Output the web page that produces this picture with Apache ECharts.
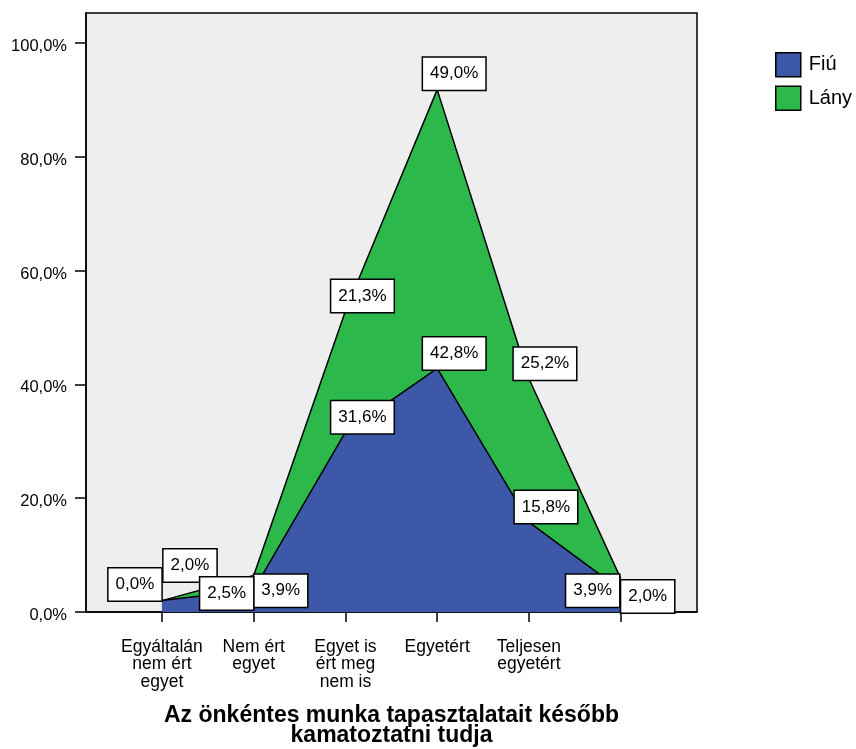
<!DOCTYPE html>
<html><head><meta charset="utf-8">
<script src="https://cdn.jsdelivr.net/npm/echarts@6/dist/echarts.min.js"></script>
<style>html,body{margin:0;padding:0;background:#fff}#c{width:856px;height:749px}</style>
</head><body><div id="c"></div>
<script>
const categories = ['Egyáltalán\nnem ért\negyet', 'Nem ért\negyet', 'Egyet is\nért meg\nnem is', 'Egyetért', 'Teljesen\negyetért', ''];
const fiu = [2.0, 3.9, 31.6, 42.8, 15.8, 3.9];
const lany = [0.0, 2.5, 21.3, 49.0, 25.2, 2.0];
const yTicks = [0, 20, 40, 60, 80, 100];
const seriesNames = ['Fiú', 'Lány'];
const xTitle = 'Az önkéntes munka tapasztalatait később\nkamatoztatni tudja';

// label box placement (pixel offsets from the point) - layout only
const fiuLabelOffset = [[28, -35], [27, 1], [17, -15], [17, -15], [17, -15], [-28, 1]];
const lanyLabelOffset = [[-27, -16], [-27, 18], [17, -15], [17, -16], [16, -15], [27, 18]];

const BLUE = '#3D57A9';
const GREEN = '#2DB84B';
const FONT = '"Liberation Sans", Arial, sans-serif';
const fmt = v => v.toFixed(1).replace('.', ',') + '%';

const xPos = categories.map((c, i) => i + 1);
const total = fiu.map((v, i) => v + lany[i]);

const labelStyle = {
  show: true, position: 'inside', color: '#000', fontFamily: FONT, fontSize: 17,
  lineHeight: 19, backgroundColor: '#fff', borderColor: '#000', borderWidth: 1.5,
  padding: [7, 7, 6, 7], opacity: 1
};

function labelSeries(name, tops, values, offsets) {
  return {
    type: 'scatter', name: name, z: 10, silent: true,
    symbol: 'circle', symbolSize: 1, itemStyle: { color: 'rgba(0,0,0,0)', opacity: 1 },
    data: tops.map((v, i) => ({ value: [xPos[i], v], label: { offset: offsets[i] } })),
    label: Object.assign({}, labelStyle, { formatter: p => fmt(values[p.dataIndex]) })
  };
}

const chart = echarts.init(document.getElementById('c'), null, { renderer: 'canvas' });
chart.setOption({
  animation: false,
  backgroundColor: '#fff',
  textStyle: { fontFamily: FONT },
  grid: {
    left: 86, right: 159, top: 13, bottom: 137, show: true, containLabel: false,
    outerBoundsMode: 'none',
    backgroundColor: '#eeeeee', borderColor: '#000', borderWidth: 1.5
  },
  legend: {
    orient: 'vertical', left: 775, top: 52, itemWidth: 25, itemHeight: 24, itemGap: 8,
    icon: 'rect', padding: 0,
    textStyle: { fontSize: 20, color: '#000', fontFamily: FONT, padding: [0, 0, 0, 3] },
    itemStyle: { borderColor: '#000', borderWidth: 1.5 },
    data: [
      { name: seriesNames[0], itemStyle: { color: BLUE, borderColor: '#000', borderWidth: 1.5 } },
      { name: seriesNames[1], itemStyle: { color: GREEN, borderColor: '#000', borderWidth: 1.5 } }
    ]
  },
  xAxis: {
    type: 'value', min: 0.172, max: 6.832,
    axisLine: { show: true, lineStyle: { color: '#000', width: 1.5 } },
    axisTick: { show: true, customValues: xPos, length: 10, lineStyle: { color: '#000', width: 1.5 } },
    axisLabel: {
      customValues: xPos, margin: 26, color: '#000', fontSize: 17.5, lineHeight: 17.5,
      fontFamily: FONT, formatter: v => categories[Math.round(v) - 1] || ''
    },
    splitLine: { show: false },
    name: xTitle, nameLocation: 'middle', nameGap: 93,
    nameTextStyle: { fontSize: 23, fontWeight: 'bold', color: '#000', lineHeight: 20.5, fontFamily: FONT, verticalAlign: 'top' }
  },
  yAxis: {
    type: 'value', min: 0, max: 105.27,
    axisLine: { show: true, lineStyle: { color: '#000', width: 1.5 } },
    axisTick: { show: true, customValues: yTicks, length: 11, lineStyle: { color: '#000', width: 1.5 } },
    axisLabel: {
      customValues: yTicks, margin: 19, color: '#000', fontSize: 16.5, fontFamily: FONT,
      verticalAlign: 'top', lineHeight: 7, formatter: v => fmt(v)
    },
    splitLine: { show: false }
  },
  series: [
    {
      type: 'line', name: seriesNames[1], z: 2, showSymbol: false, silent: true,
      data: total.map((v, i) => [xPos[i], v]),
      lineStyle: { color: '#000', width: 1.5 },
      itemStyle: { color: GREEN },
      areaStyle: { color: GREEN, opacity: 1 }
    },
    {
      type: 'line', name: seriesNames[0], z: 3, showSymbol: false, silent: true,
      data: fiu.map((v, i) => [xPos[i], v]),
      lineStyle: { color: '#000', width: 1.5 },
      itemStyle: { color: BLUE },
      areaStyle: { color: BLUE, opacity: 1 }
    },
    labelSeries('lblFiu', fiu, fiu, fiuLabelOffset),
    labelSeries('lblLany', total, lany, lanyLabelOffset)
  ]
});
</script>
</body></html>
